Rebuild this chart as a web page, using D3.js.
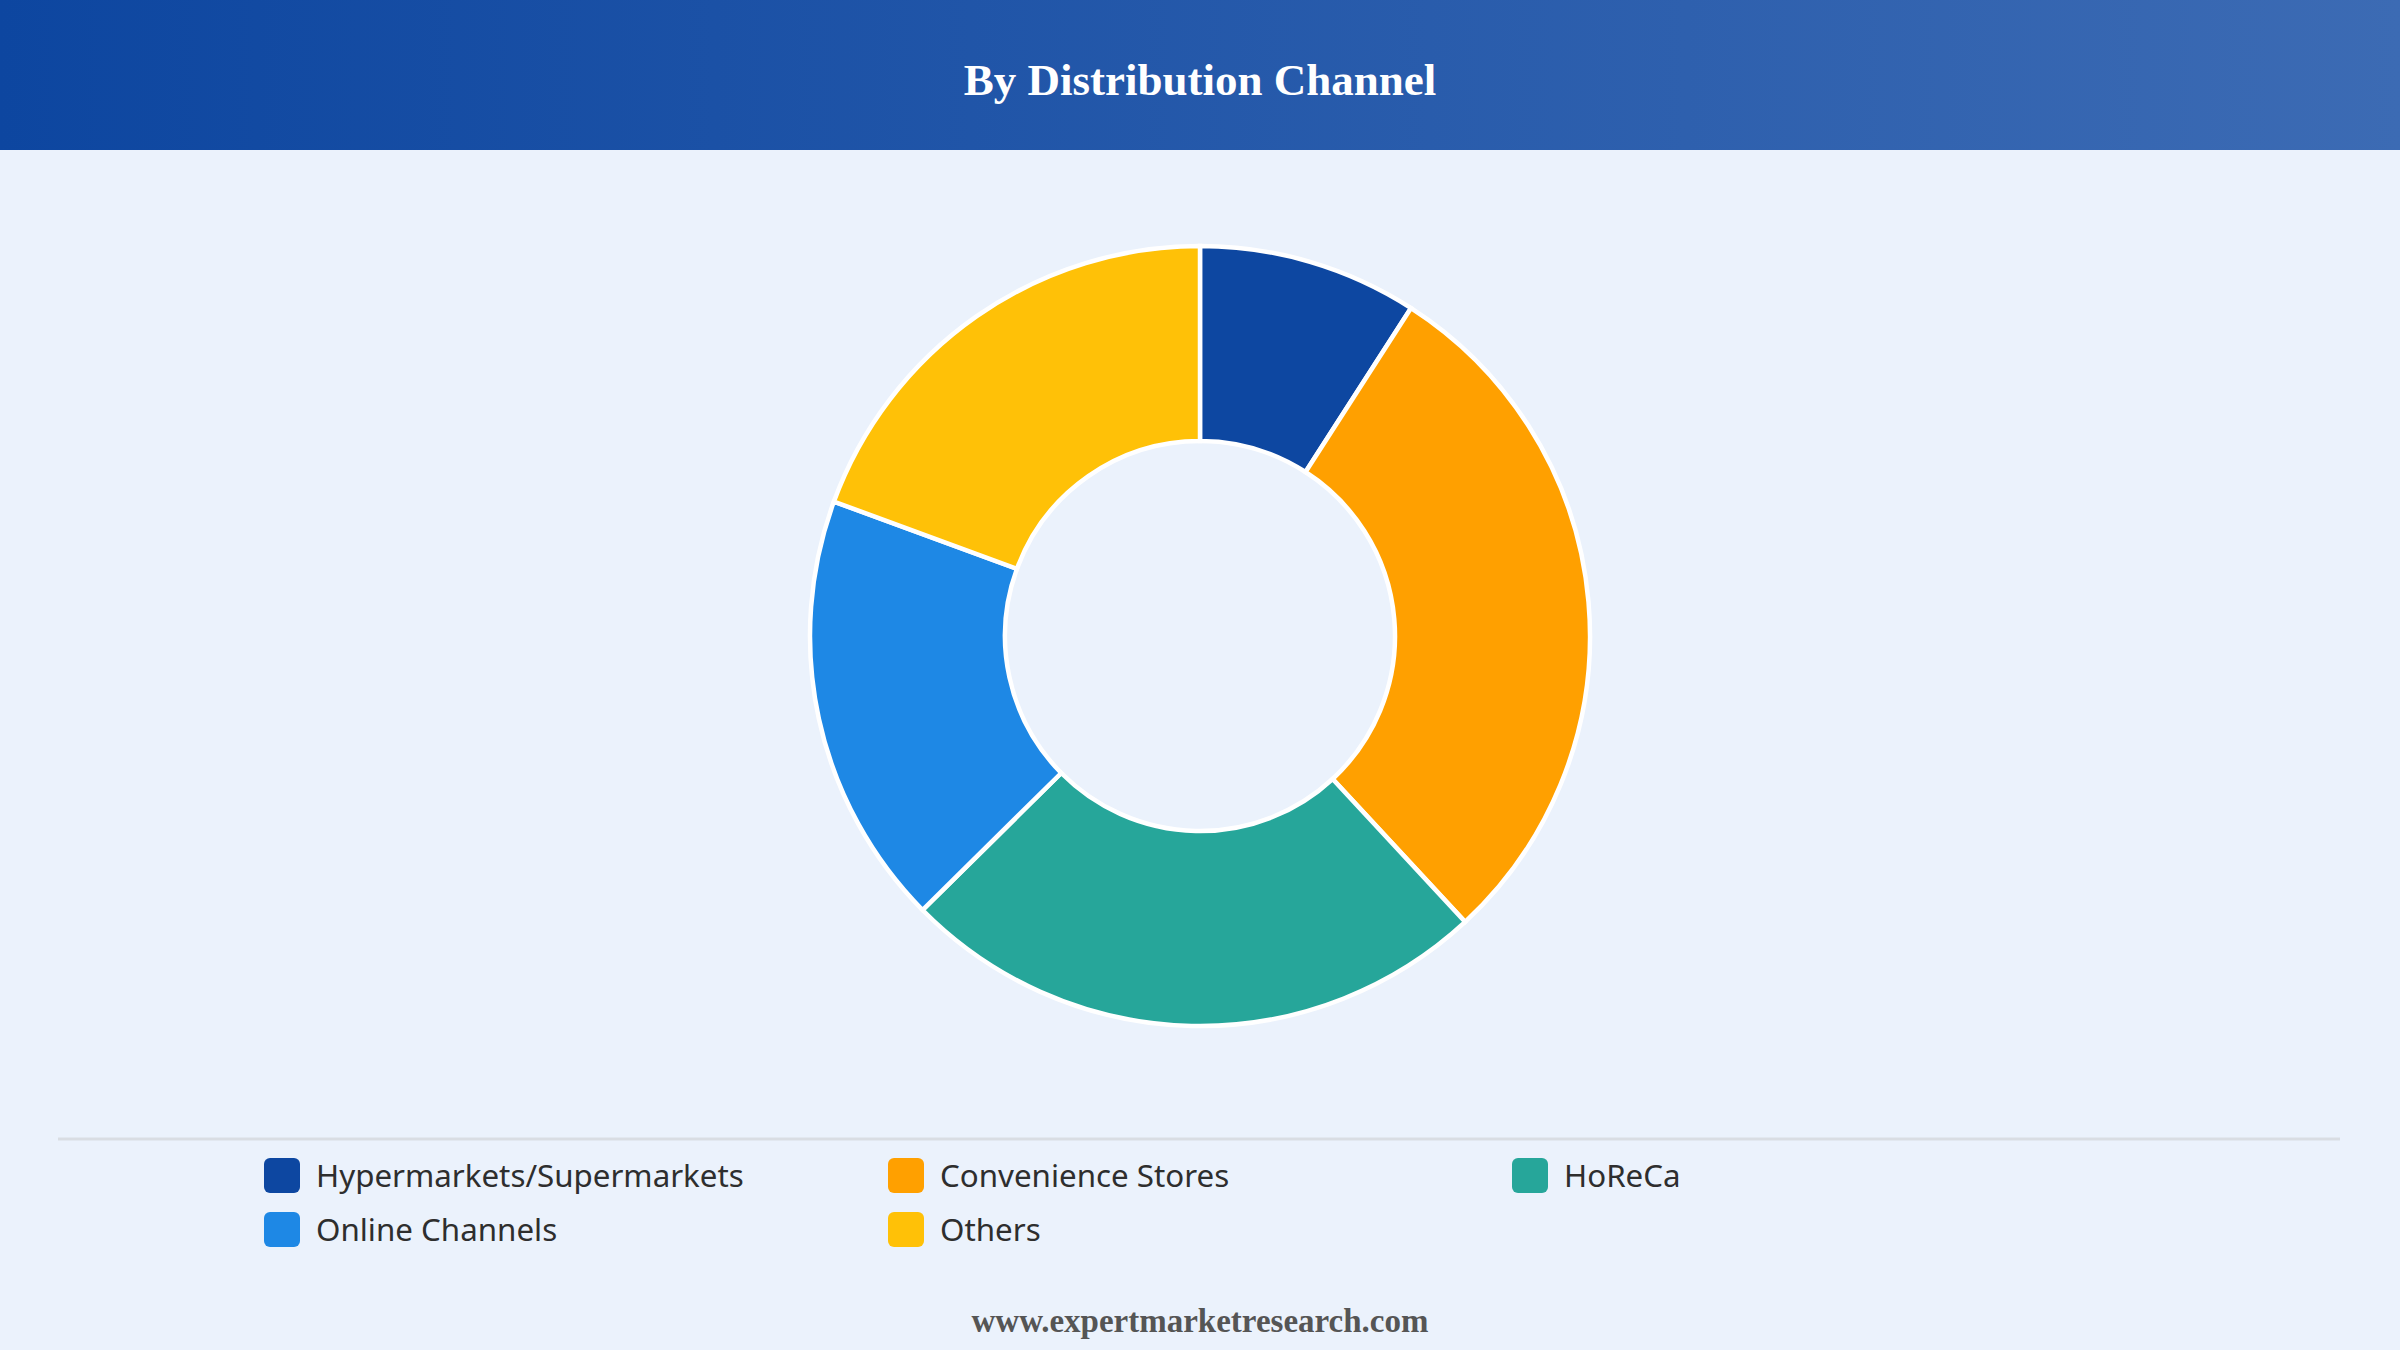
<!DOCTYPE html>
<html>
<head>
<meta charset="utf-8">
<script src="https://cdn.jsdelivr.net/npm/d3@7"></script>
<style>
  html, body { margin: 0; padding: 0; background: #ebf2fc; }
  svg { display: block; }
</style>
</head>
<body>
<div id="chart"></div>
<script>
// data (shares, %)
const categories = ["Hypermarkets/Supermarkets", "Convenience Stores", "HoReCa", "Online Channels", "Others"];
const shares = [9.1, 29.0, 24.5, 18.0, 19.4];
const colours = ["#0d47a1", "#ffa000", "#26a69a", "#1e88e5", "#ffc107"];
const title = "By Distribution Channel";
const footer = "www.expertmarketresearch.com";

const width = 2400;
const height = 1350;
const cx = 1200, cy = 636;
const outer = 390, inner = 195;

const svg = d3.select("#chart").append("svg")
    .attr("width", width).attr("height", height)
    .attr("viewBox", [0, 0, width, height]);

svg.append("rect").attr("width", width).attr("height", height).attr("fill", "#ebf2fc");

// header band
const grad = svg.append("defs").append("linearGradient").attr("id", "hdr");
grad.append("stop").attr("offset", "0%").attr("stop-color", "#0d46a0");
grad.append("stop").attr("offset", "100%").attr("stop-color", "#3c6bb4");
svg.append("rect").attr("width", width).attr("height", 150).attr("fill", "url(#hdr)");
svg.append("text")
    .attr("x", width / 2).attr("y", 95)
    .attr("text-anchor", "middle")
    .attr("font-family", "'Liberation Serif', 'Times New Roman', serif")
    .attr("font-weight", "bold").attr("font-size", 45)
    .attr("fill", "#fff")
    .text(title);

// donut
const pie = d3.pie().sort(null).value(d => d)(shares);
const arc = d3.arc().innerRadius(inner).outerRadius(outer);
svg.append("g").attr("transform", `translate(${cx},${cy})`)
    .selectAll("path").data(pie).enter()
    .append("path")
    .attr("d", arc)
    .attr("fill", (d, i) => colours[i])
    .attr("stroke", "#fff").attr("stroke-width", 4.5);

// separator
svg.append("line")
    .attr("x1", 58).attr("x2", 2340).attr("y1", 1139).attr("y2", 1139)
    .attr("stroke", "#d9dde3").attr("stroke-width", 3);

// legend, 3 columns
const col = d3.scalePoint().domain([0, 1, 2]).range([264, 1512]);
const row = d3.scalePoint().domain([0, 1]).range([1176, 1230]);
const leg = svg.append("g").selectAll("g").data(categories).enter()
    .append("g")
    .attr("transform", (d, i) => `translate(${col(i % 3)},${row(Math.floor(i / 3))})`);
leg.append("rect")
    .attr("x", 0).attr("y", -18).attr("width", 36).attr("height", 35).attr("rx", 6)
    .attr("fill", (d, i) => colours[i]);
leg.append("text")
    .attr("x", 52).attr("y", 0).attr("dy", "0.35em")
    .attr("font-family", "'Noto Sans', sans-serif")
    .attr("font-size", 31.3).attr("fill", "#2e2e2e")
    .text(d => d);

svg.append("text")
    .attr("x", width / 2).attr("y", 1332)
    .attr("text-anchor", "middle")
    .attr("font-family", "'Liberation Serif', 'Times New Roman', serif")
    .attr("font-weight", "bold").attr("font-size", 33)
    .attr("fill", "#555")
    .text(footer);
</script>
</body>
</html>
